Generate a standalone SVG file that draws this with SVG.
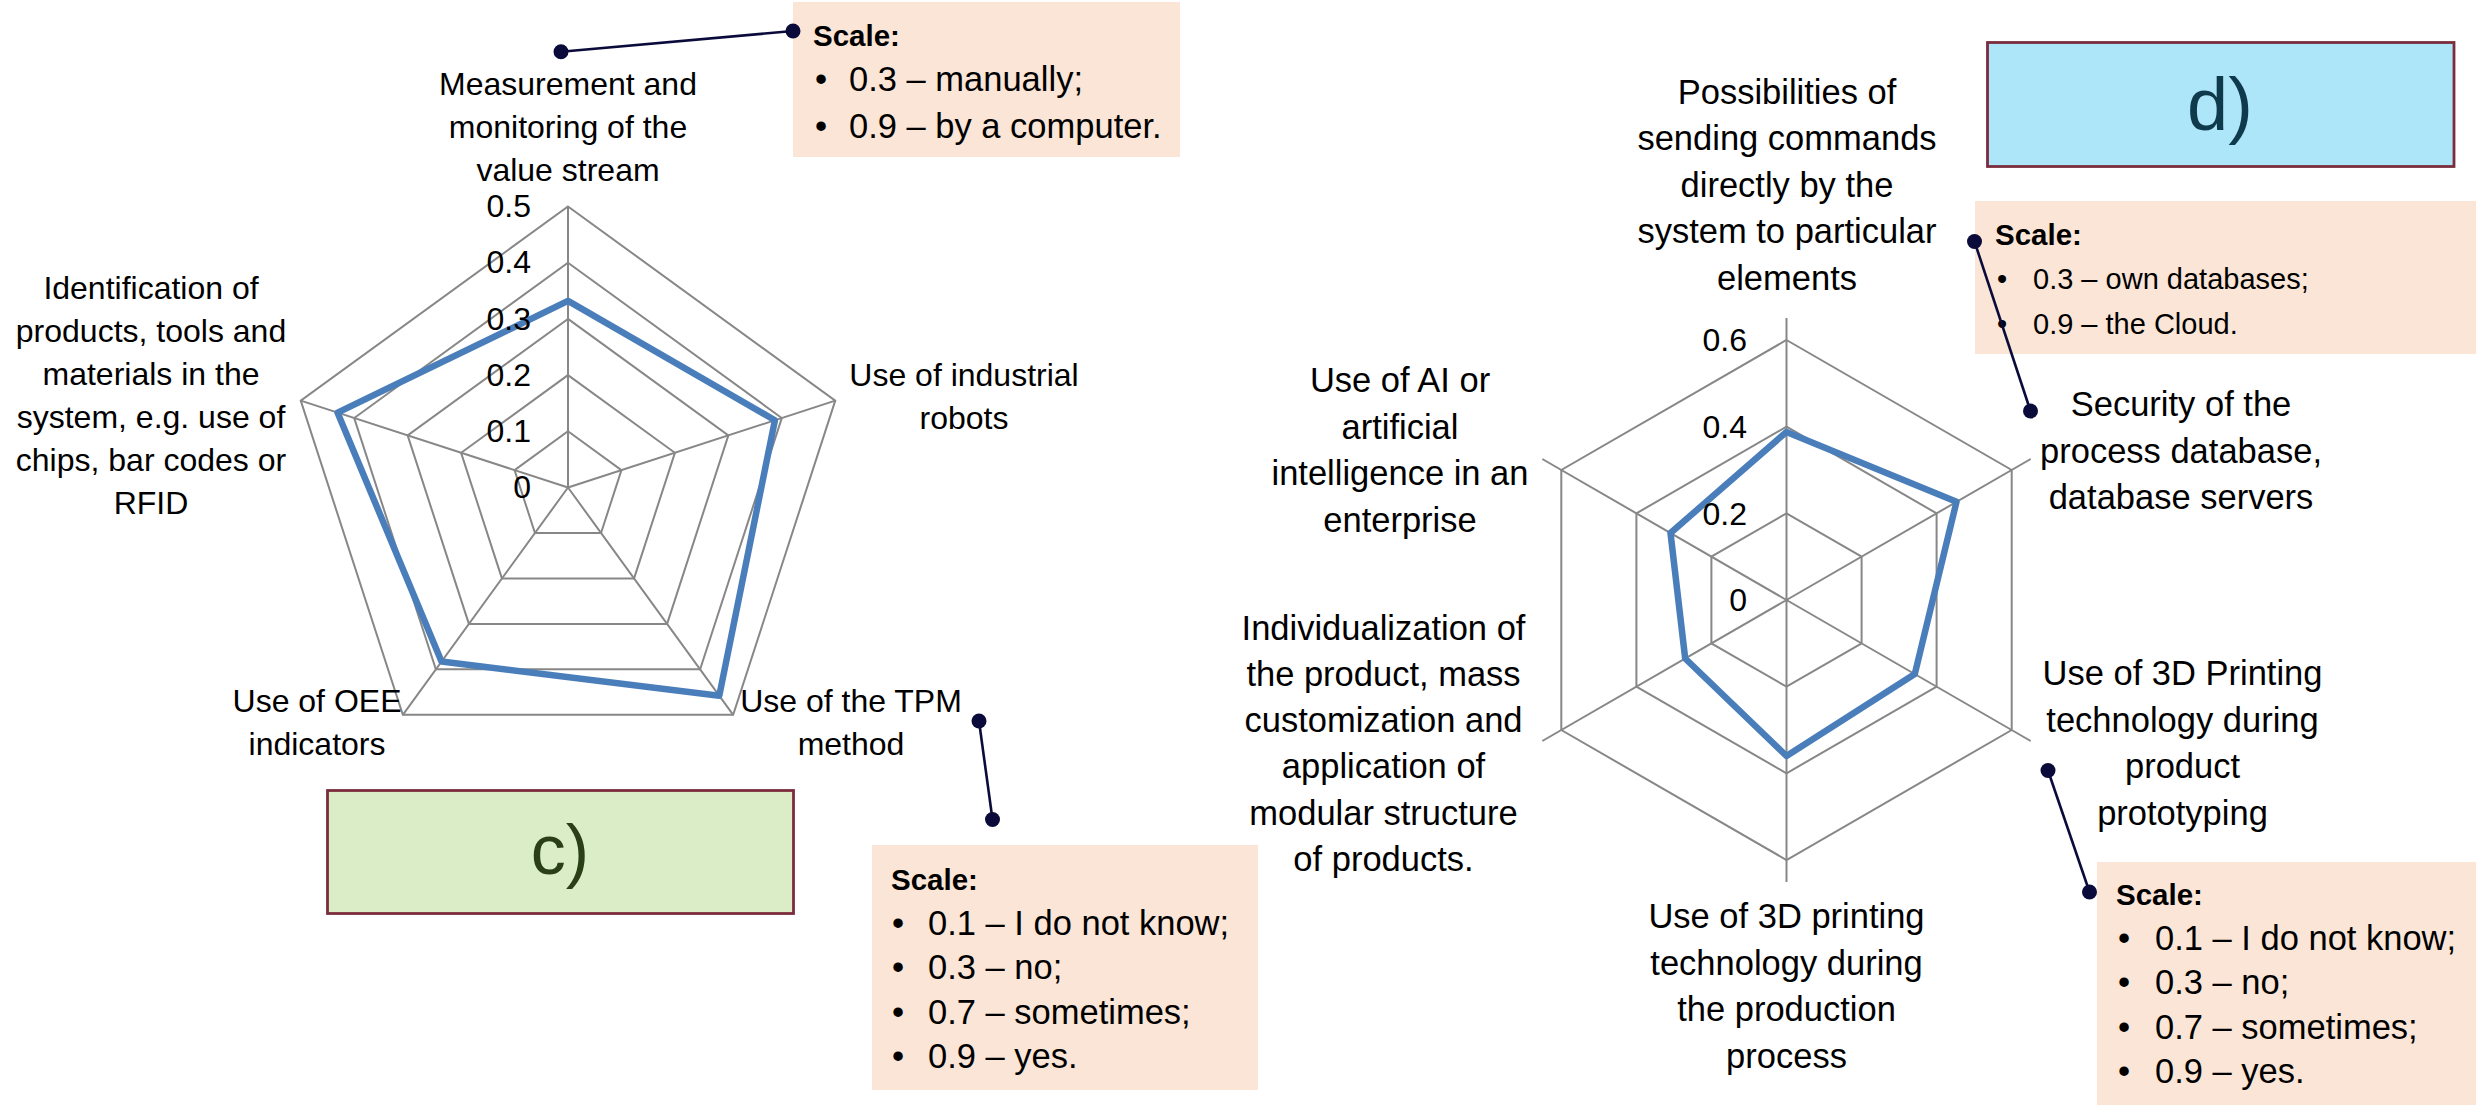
<svg xmlns="http://www.w3.org/2000/svg" width="2476" height="1105" viewBox="0 0 2476 1105">
<style>
text{font-family:"Liberation Sans",Arial,sans-serif;fill:#000}
.lc{font-size:32px;text-anchor:middle}
.ld{font-size:34.5px;text-anchor:middle}
.ax{font-size:32px;text-anchor:end}
.sc{font-size:34.5px}
.sc3{font-size:29px}
.scb{font-size:29.5px;font-weight:bold}
.grid{fill:none;stroke:#878787;stroke-width:2}
.data{fill:none;stroke:#4A7EBB;stroke-width:6.5;stroke-linejoin:round}
.note{fill:#FBE5D6}
.lead{stroke:#0B0B3B;stroke-width:2.6}
.dot{fill:#0B0B3B}
.tag{stroke:#7B2D3E;stroke-width:2.8}
</style>
<rect width="2476" height="1105" fill="#fff"/>

<g id="chart-c">
<polygon class="grid" points="568,431.3 621.45,470.13 601.03,532.97 534.97,532.97 514.55,470.13"/>
<polygon class="grid" points="568,375.1 674.9,452.77 634.07,578.43 501.93,578.43 461.1,452.77"/>
<polygon class="grid" points="568,318.9 728.36,435.4 667.1,623.9 468.9,623.9 407.64,435.4"/>
<polygon class="grid" points="568,262.7 781.8,418.04 700.14,669.36 435.86,669.36 354.2,418.04"/>
<polygon class="grid" points="568,206.5 835.26,400.67 733.17,714.83 402.83,714.83 300.74,400.67"/>
<path class="grid" d="M568,487.5L568,206.5M568,487.5L835.26,400.67M568,487.5L733.17,714.83M568,487.5L402.83,714.83M568,487.5L300.74,400.67"/>
<polygon class="data" points="568,300.9 774.9,420.3 719.3,695.7 441.5,661.6 337.6,412.7"/>
<text class="ax" x="531" y="217">0.5</text>
<text class="ax" x="531" y="273">0.4</text>
<text class="ax" x="531" y="329.5">0.3</text>
<text class="ax" x="531" y="385.5">0.2</text>
<text class="ax" x="531" y="442">0.1</text>
<text class="ax" x="531" y="498">0</text>
</g>

<g id="label-c-top"><text class="lc" x="568" y="94.5">Measurement and</text><text class="lc" x="568" y="137.5">monitoring of the</text><text class="lc" x="568" y="180.5">value stream</text></g>
<g id="label-c-left"><text class="lc" x="151" y="299">Identification of</text><text class="lc" x="151" y="342">products, tools and</text><text class="lc" x="151" y="385">materials in the</text><text class="lc" x="151" y="428">system, e.g. use of</text><text class="lc" x="151" y="471">chips, bar codes or</text><text class="lc" x="151" y="514">RFID</text></g>
<g id="label-c-right"><text class="lc" x="964" y="386">Use of industrial</text><text class="lc" x="964" y="429">robots</text></g>
<g id="label-c-oee"><text class="lc" x="317" y="712">Use of OEE</text><text class="lc" x="317" y="755">indicators</text></g>
<g id="label-c-tpm"><text class="lc" x="851" y="712">Use of the TPM</text><text class="lc" x="851" y="755">method</text></g>

<g id="tag-c"><rect class="tag" x="327.5" y="790.5" width="466" height="123" fill="#DAEDC6"/><text x="560" y="874" font-size="70" text-anchor="middle" style="fill:#2B3F16">c)</text></g>

<g id="note-c1"><rect class="note" x="793" y="2" width="387" height="155"/><text class="scb" x="813" y="46">Scale:</text><text class="sc" x="815" y="91">•</text><text class="sc" x="849" y="91">0.3 – manually;</text><text class="sc" x="815" y="137.5">•</text><text class="sc" x="849" y="137.5">0.9 – by a computer.</text></g>

<g id="note-c2"><rect class="note" x="872" y="845" width="386" height="245"/><text class="scb" x="891" y="890">Scale:</text><text class="sc" x="892" y="934.5">•</text><text class="sc" x="928" y="934.5">0.1 – I do not know;</text><text class="sc" x="892" y="979">•</text><text class="sc" x="928" y="979">0.3 – no;</text><text class="sc" x="892" y="1023.5">•</text><text class="sc" x="928" y="1023.5">0.7 – sometimes;</text><text class="sc" x="892" y="1068">•</text><text class="sc" x="928" y="1068">0.9 – yes.</text></g>

<g id="chart-d">
<polygon class="grid" points="1786.5,513.3 1861.6,556.65 1861.6,643.35 1786.5,686.7 1711.4,643.35 1711.4,556.65"/>
<polygon class="grid" points="1786.5,426.7 1936.6,513.35 1936.6,686.65 1786.5,773.3 1636.4,686.65 1636.4,513.35"/>
<polygon class="grid" points="1786.5,340 2011.7,470 2011.7,730 1786.5,860 1561.3,730 1561.3,470"/>
<path class="grid" d="M1786.5,600L1786.5,318M1786.5,600L2030.7,459M1786.5,600L2030.7,741M1786.5,600L1786.5,882M1786.5,600L1542.3,741M1786.5,600L1542.3,459"/>
<polygon class="data" points="1786.5,431.9 1956.5,501.8 1914.8,674.1 1786.5,756 1685.2,658.5 1670.5,533"/>
<text class="ax" x="1747" y="351">0.6</text>
<text class="ax" x="1747" y="438">0.4</text>
<text class="ax" x="1747" y="524.5">0.2</text>
<text class="ax" x="1747" y="611">0</text>
</g>

<g id="label-d-top"><text class="ld" x="1787" y="103.5">Possibilities of</text><text class="ld" x="1787" y="150">sending commands</text><text class="ld" x="1787" y="196.5">directly by the</text><text class="ld" x="1787" y="243">system to particular</text><text class="ld" x="1787" y="289.5">elements</text></g>
<g id="label-d-ai"><text class="ld" x="1400" y="392">Use of AI or</text><text class="ld" x="1400" y="438.5">artificial</text><text class="ld" x="1400" y="485">intelligence in an</text><text class="ld" x="1400" y="531.5">enterprise</text></g>
<g id="label-d-security"><text class="ld" x="2181" y="416">Security of the</text><text class="ld" x="2181" y="462.5">process database,</text><text class="ld" x="2181" y="509">database servers</text></g>
<g id="label-d-proto"><text class="ld" x="2182.5" y="685">Use of 3D Printing</text><text class="ld" x="2182.5" y="731.5">technology during</text><text class="ld" x="2182.5" y="778">product</text><text class="ld" x="2182.5" y="824.5">prototyping</text></g>
<g id="label-d-production"><text class="ld" x="1786.5" y="928">Use of 3D printing</text><text class="ld" x="1786.5" y="974.5">technology during</text><text class="ld" x="1786.5" y="1021">the production</text><text class="ld" x="1786.5" y="1067.5">process</text></g>
<g id="label-d-individual"><text class="ld" x="1383.5" y="640">Individualization of</text><text class="ld" x="1383.5" y="685.5">the product, mass</text><text class="ld" x="1383.5" y="732">customization and</text><text class="ld" x="1383.5" y="778">application of</text><text class="ld" x="1383.5" y="824.5">modular structure</text><text class="ld" x="1383.5" y="871">of products.</text></g>

<g id="tag-d"><rect class="tag" x="1987.5" y="42.5" width="466.5" height="124" fill="#ADE6F9"/><text x="2220" y="130" font-size="74" text-anchor="middle" style="fill:#0E3A4C">d)</text></g>

<g id="note-d1"><rect class="note" x="1975" y="201" width="501" height="153"/><text class="scb" x="1995" y="244.5">Scale:</text><text class="sc3" x="1997" y="289">•</text><text class="sc3" x="2033" y="289">0.3 – own databases;</text><text class="sc3" x="1997" y="333.5">•</text><text class="sc3" x="2033" y="333.5">0.9 – the Cloud.</text></g>

<g id="note-d2"><rect class="note" x="2097" y="862" width="379" height="243"/><text class="scb" x="2116" y="905">Scale:</text><text class="sc" x="2118" y="949.5">•</text><text class="sc" x="2155" y="949.5">0.1 – I do not know;</text><text class="sc" x="2118" y="994">•</text><text class="sc" x="2155" y="994">0.3 – no;</text><text class="sc" x="2118" y="1038.5">•</text><text class="sc" x="2155" y="1038.5">0.7 – sometimes;</text><text class="sc" x="2118" y="1083">•</text><text class="sc" x="2155" y="1083">0.9 – yes.</text></g>

<g id="connectors">
<line class="lead" x1="561" y1="51.7" x2="793" y2="31"/>
<circle class="dot" cx="561" cy="51.7" r="7.5"/><circle class="dot" cx="793" cy="31" r="7.5"/>
<line class="lead" x1="979" y1="721" x2="992.5" y2="819.5"/>
<circle class="dot" cx="979" cy="721" r="7.5"/><circle class="dot" cx="992.5" cy="819.5" r="7.5"/>
<line class="lead" x1="1974.5" y1="241.5" x2="2030.5" y2="411"/>
<circle class="dot" cx="1974.5" cy="241.5" r="7.5"/><circle class="dot" cx="2030.5" cy="411" r="7.5"/>
<line class="lead" x1="2048" y1="770.5" x2="2089.5" y2="892"/>
<circle class="dot" cx="2048" cy="770.5" r="7.5"/><circle class="dot" cx="2089.5" cy="892" r="7.5"/>
</g>
</svg>
